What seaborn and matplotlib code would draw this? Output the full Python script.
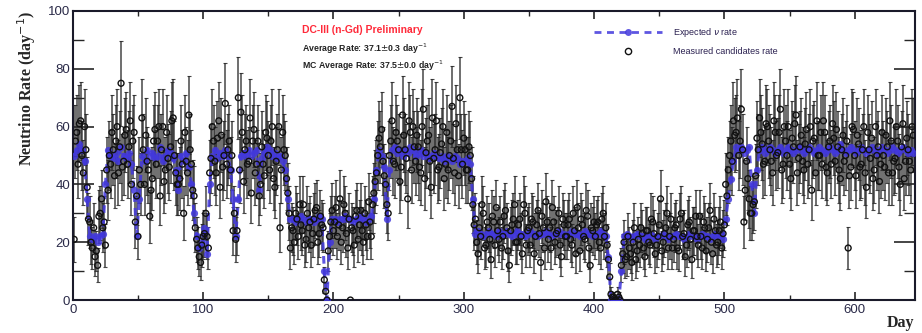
import numpy as np
import pandas as pd
import matplotlib
matplotlib.use("Agg")
import matplotlib.pyplot as plt
from matplotlib.lines import Line2D
from matplotlib.ticker import MultipleLocator
import seaborn as sns

# ── Data ──────────────────────────────────────────────────────────────────────
# expected rate and odd-day candidates: days 1, 3, ..., 645
# even-day candidates: days 2, 4, ..., 644
EXPECTED = [
    50, 52, 54, 52, 48, 35, 22, 21, 22, 20,   # d1-19
    22, 23, 40, 52, 50, 49, 51, 48, 53, 50,   # d21-39
    49, 51, 47, 38, 22, 35, 50, 48, 52, 50,   # d41-59
    51, 49, 50, 53, 48, 50, 52, 51, 49, 45,   # d61-79
    38, 50, 48, 51, 46, 40, 30, 22, 18, 20,   # d81-99
    25, 16, 40, 50, 52, 49, 51, 50, 52, 50,   # d101-119
    45, 35, 22, 35, 50, 51, 50, 52, 50, 51,   # d121-139
    52, 38, 49, 51, 53, 52, 50, 51, 49, 50,   # d141-159
    48, 45, 35, 28, 28, 27, 28, 29, 28, 27,   # d161-179
    28, 28, 27, 28, 29, 28, 10, 0, 20, 28,    # d181-199
    28, 27, 28, 28, 29, 28, 28, 27, 28, 28,   # d201-219
    29, 28, 27, 28, 29, 35, 45, 52, 50, 46,   # d221-239
    28, 45, 52, 53, 51, 52, 50, 52, 51, 53,   # d241-259
    52, 50, 51, 52, 50, 51, 49, 50, 51, 50,   # d261-279
    49, 50, 48, 50, 49, 48, 50, 49, 47, 48,   # d281-299
    48, 49, 47, 35, 23, 24, 23, 22, 23, 24,   # d301-319
    23, 23, 22, 24, 23, 23, 24, 23, 22, 23,   # d321-339
    24, 23, 23, 22, 23, 24, 23, 23, 22, 23,   # d341-359
    23, 24, 23, 22, 23, 23, 24, 23, 23, 22,   # d361-379
    23, 24, 23, 23, 22, 23, 24, 23, 23, 22,   # d381-399
    23, 23, 24, 23, 22, 15, 0, 0, 0, 0,       # d401-419
    10, 22, 23, 22, 21, 22, 23, 22, 22, 21,   # d421-439
    22, 23, 22, 21, 22, 22, 23, 22, 21, 22,   # d441-459
    22, 23, 22, 22, 21, 22, 23, 22, 22, 21,   # d461-479
    22, 23, 22, 22, 21, 22, 23, 22, 22, 21,   # d481-499
    28, 35, 42, 48, 53, 52, 53, 51, 52, 53,   # d501-519
    40, 30, 45, 52, 53, 51, 52, 53, 52, 51,   # d521-539
    52, 53, 51, 52, 53, 52, 51, 52, 53, 52,   # d541-559
    51, 52, 53, 52, 51, 52, 53, 52, 51, 52,   # d561-579
    53, 52, 51, 52, 54, 52, 51, 52, 53, 52,   # d581-599
    51, 52, 53, 52, 51, 52, 53, 52, 51, 52,   # d601-619
    53, 52, 51, 52, 53, 52, 51, 52, 53, 52,   # d621-639
    51, 52, 51,                               # d641-645
]

MEASURED_ODD = [
    21, 58, 61, 50, 60, 39, 27, 18, 15, 12,
    30, 25, 19, 38, 47, 52, 55, 44, 75, 48,
    59, 53, 40, 58, 36, 45, 63, 40, 48, 29,
    42, 59, 55, 36, 60, 45, 49, 53, 63, 44,
    40, 55, 30, 48, 64, 47, 36, 21, 15, 19,
    23, 22, 44, 60, 48, 56, 39, 46, 68, 52,
    45, 24, 21, 70, 65, 41, 55, 48, 37, 59,
    47, 36, 53, 43, 56, 45, 60, 39, 52, 25,
    58, 50, 37, 18, 24, 30, 22, 26, 33, 21,
    25, 19, 28, 32, 23, 26, 7, 0, 22, 31,
    27, 22, 35, 25, 30, 18, 0, 24, 29, 21,
    31, 20, 26, 34, 22, 37, 44, 56, 59, 43,
    33, 50, 62, 47, 55, 41, 64, 52, 35, 58,
    60, 48, 53, 44, 66, 51, 57, 39, 49, 62,
    46, 54, 42, 58, 50, 67, 44, 52, 70, 47,
    52, 45, 50, 33, 28, 16, 22, 30, 19, 25,
    14, 27, 32, 21, 18, 29, 25, 12, 26, 33,
    20, 28, 16, 30, 24, 19, 27, 22, 31, 13,
    25, 34, 21, 18, 27, 23, 30, 15, 26, 22,
    28, 19, 24, 32, 17, 26, 21, 29, 12, 24,
    22, 27, 18, 30, 25, 14, 2, 1, 0, 1,
    12, 20, 15, 18, 13, 25, 17, 19, 23, 15,
    24, 19, 27, 16, 22, 35, 20, 25, 18, 28,
    21, 26, 17, 30, 23, 19, 27, 14, 24, 22,
    29, 18, 25, 21, 31, 16, 24, 20, 27, 23,
    40, 45, 55, 62, 58, 50, 66, 27, 48, 35,
    30, 34, 56, 63, 54, 48, 60, 52, 44, 58,
    51, 66, 47, 55, 60, 42, 53, 64, 49, 57,
    45, 59, 52, 38, 56, 62, 50, 47, 58, 44,
    55, 61, 48, 53, 42, 57, 50, 18, 46, 59,
    43, 54, 47, 60, 39, 52, 56, 45, 50, 41,
    58, 46, 53, 62, 44, 49, 55, 40, 61, 48,
    52, 45, 57,
]

MEASURED_EVEN = [
    55, 47, 62, 44, 52, 28, 20, 25, 17, 29,
    35, 27, 45, 50, 58, 43, 60, 53, 46, 57,
    47, 62, 55, 27, 22, 40, 52, 57, 45, 38,
    55, 47, 60, 52, 41, 58, 46, 62, 50, 40,
    42, 47, 58, 44, 52, 38, 25, 18, 13, 22,
    30, 18, 49, 55, 44, 62, 57, 50, 47, 55,
    50, 30, 24, 45, 58, 52, 47, 63, 55, 44,
    55, 40, 47, 58, 50, 55, 42, 48, 60, 45,
    52, 42, 30, 25, 20, 28, 33, 24, 19, 30,
    27, 23, 31, 20, 29, 25, 3, 17, 27, 24,
    32, 26, 20, 33, 23, 28, 25, 19, 31, 26,
    24, 30, 22, 27, 33, 41, 50, 53, 48, 40,
    30, 55, 48, 58, 52, 46, 57, 49, 62, 45,
    53, 57, 46, 60, 42, 55, 48, 63, 52, 45,
    51, 60, 47, 45, 55, 49, 61, 43, 52, 56,
    45, 53, 42, 26, 20, 25, 33, 18, 27, 21,
    29, 19, 24, 27, 22, 31, 17, 24, 28, 20,
    26, 22, 33, 19, 25, 28, 16, 26, 23, 29,
    18, 27, 25, 32, 20, 24, 19, 28, 22, 26,
    21, 30, 16, 25, 28, 22, 31, 18, 25, 27,
    26, 20, 28, 22, 19, 8, 1, 0, 2, 0,
    16, 14, 22, 16, 20, 14, 21, 25, 18, 24,
    20, 28, 23, 19, 26, 17, 23, 30, 22, 18,
    25, 18, 28, 22, 15, 26, 21, 24, 29, 19,
    22, 27, 17, 25, 20, 28, 19, 24, 18, 26,
    36, 50, 48, 57, 63, 55, 52, 38, 42, 30,
    33, 43, 52, 58, 47, 61, 55, 48, 62, 50,
    58, 45, 60, 50, 47, 56, 61, 44, 53, 48,
    54, 47, 60, 55, 44, 50, 58, 62, 46, 53,
    47, 56, 59, 45, 52, 48, 55, 43, 60, 50,
    57, 46, 52, 44, 58, 49, 42, 60, 53, 47,
    50, 57, 44, 55, 48, 60, 46, 53, 42, 56,
    48, 60,
]

TITLE_TEXT = "DC-III (n-Gd) Preliminary"
AVG_TEXT = r"Average Rate: 37.1$\pm$0.3 day$^{-1}$"
MC_TEXT = r"MC Average Rate: 37.5$\pm$0.0 day$^{-1}$"

BLUE = "#4238dc"

# ── Build frames ──────────────────────────────────────────────────────────────
odd_days = np.arange(1, 646, 2)
even_days = np.arange(2, 645, 2)
assert len(odd_days) == len(EXPECTED) == len(MEASURED_ODD)
assert len(even_days) == len(MEASURED_EVEN)

exp_df = pd.DataFrame({"day": odd_days, "rate": EXPECTED})
meas_df = pd.concat([
    pd.DataFrame({"day": odd_days, "rate": MEASURED_ODD}),
    pd.DataFrame({"day": even_days, "rate": MEASURED_EVEN}),
]).sort_values("day")
# Poisson-like statistical uncertainty on the candidate rate
meas_df["err"] = 1.7 * np.sqrt(meas_df["rate"])

# ── Plot ──────────────────────────────────────────────────────────────────────
sns.set_style("white")
plt.rcParams["font.family"] = ["Liberation Sans", "DejaVu Sans"]

fig = plt.figure(figsize=(9.22, 3.33), dpi=100)
ax = fig.add_axes([0.079, 0.099, 0.913, 0.868])

ax.errorbar(meas_df["day"], meas_df["rate"], yerr=meas_df["err"], fmt="none",
            ecolor="#262626", elinewidth=1.1, capsize=1.2, capthick=0.8,
            alpha=0.85, zorder=2)
sns.lineplot(data=exp_df, x="day", y="rate", ax=ax, color=BLUE,
             linestyle=(0, (2.5, 2.0)), linewidth=2.2, marker="o",
             markersize=5.2, markeredgewidth=0, alpha=0.85, zorder=3)
sns.scatterplot(data=meas_df, x="day", y="rate", ax=ax, marker="o", s=18,
                facecolor="none", edgecolor="#111111", linewidth=1.0, zorder=4)

ax.set_xlim(0, 646)
ax.set_ylim(0, 100)
ax.xaxis.set_major_locator(MultipleLocator(100))
ax.xaxis.set_minor_locator(MultipleLocator(50))
ax.yaxis.set_major_locator(MultipleLocator(20))
ax.yaxis.set_minor_locator(MultipleLocator(10))
ax.tick_params(axis="x", which="major", direction="in", length=6, width=1.2,
               top=True, bottom=True, labelsize=9.5, labelcolor="#2a2a48", pad=3)
ax.tick_params(axis="x", which="minor", direction="in", length=3.5, width=1.0,
               top=True, bottom=True)
ax.tick_params(axis="y", which="major", direction="in", length=15, width=1.2,
               left=True, right=True, labelsize=9.5, labelcolor="#2a2a48", pad=2)
ax.tick_params(axis="y", which="minor", direction="in", length=8, width=1.0,
               left=True, right=True)
for sp in ax.spines.values():
    sp.set_linewidth(1.5)
    sp.set_color("#1a1a2a")

ax.set_xlabel("")
ax.set_ylabel(r"Neutrino Rate (day$^{-1}$)", family="Liberation Serif",
              fontweight="bold", fontsize=11.5, labelpad=7, loc="top")
fig.text(0.992, 0.005, "Day", family="Liberation Serif", fontweight="bold",
         fontsize=11.5, ha="right", va="bottom")

ax.text(0.272, 0.935, TITLE_TEXT, transform=ax.transAxes, color="#ff2a3a",
        fontsize=7.5, fontweight="bold", va="center")
ax.text(0.272, 0.868, AVG_TEXT, transform=ax.transAxes, color="#222222",
        fontsize=6.3, fontweight="bold", va="center")
ax.text(0.272, 0.810, MC_TEXT, transform=ax.transAxes, color="#222222",
        fontsize=6.3, fontweight="bold", va="center")

handles = [
    Line2D([], [], color=BLUE, linestyle=(0, (2.5, 2.0)), linewidth=2.0,
           marker="o", markersize=5, markeredgewidth=0, alpha=0.85),
    Line2D([], [], color="none", marker="o", markersize=4.5,
           markerfacecolor="none", markeredgecolor="#111111", markeredgewidth=1.0),
]
ax.legend(handles, [r"Expected $\nu$ rate", "Measured candidates rate"],
          loc="upper left", bbox_to_anchor=(0.61, 0.975), frameon=False,
          fontsize=6.5, handlelength=7.5, handletextpad=1.2, labelspacing=0.9,
          labelcolor="#2a2050")

fig.savefig("out.png", dpi=100)
